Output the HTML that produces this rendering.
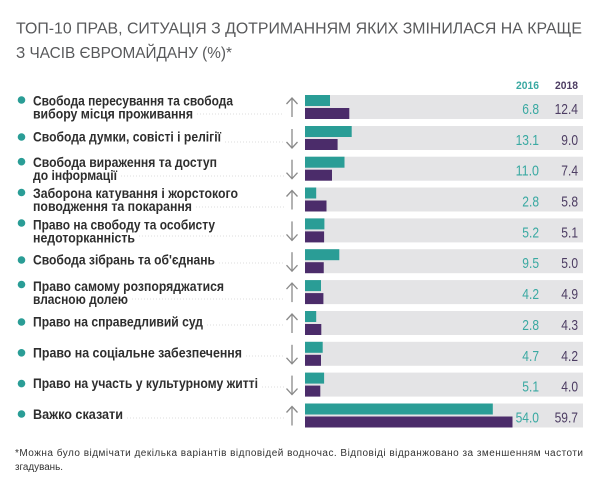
<!DOCTYPE html>
<html><head><meta charset="utf-8">
<style>
html,body{margin:0;padding:0;background:#fff;}
svg{display:block;}
text{font-family:"Liberation Sans","Noto Sans CJK SC",sans-serif;}
.lb{font-size:13.5px;font-weight:bold;fill:#2e2e2e;}
.n1{font-size:15px;fill:#3aa9a2;}
.n2{font-size:15px;fill:#4d3d63;}
</style></head>
<body>
<svg width="600" height="485" viewBox="0 0 600 485" xmlns="http://www.w3.org/2000/svg">
<rect width="600" height="485" fill="#fff"/>
<!-- title -->
<text x="16" y="33.5" font-size="15.5" fill="#58595b" textLength="566" lengthAdjust="spacingAndGlyphs">ТОП-10 ПРАВ, СИТУАЦІЯ З ДОТРИМАННЯМ ЯКИХ ЗМІНИЛАСЯ НА КРАЩЕ</text>
<text x="16" y="58" font-size="15.5" fill="#58595b" textLength="216" lengthAdjust="spacingAndGlyphs">З ЧАСІВ ЄВРОМАЙДАНУ (%)*</text>
<!-- header -->
<text x="539" y="89" font-size="11" font-weight="bold" fill="#3aa9a2" text-anchor="end" textLength="23" lengthAdjust="spacingAndGlyphs">2016</text>
<text x="578" y="89" font-size="11" font-weight="bold" fill="#4d3d63" text-anchor="end" textLength="23" lengthAdjust="spacingAndGlyphs">2018</text>

<g id="rows">
<!-- row 1 top 95 -->
<rect x="305" y="95" width="278" height="24" fill="#e4e4e6"/>
<rect x="305" y="95" width="25" height="11" fill="#2a9d96"/>
<rect x="305" y="108" width="44.3" height="11" fill="#4b2c6a"/>
<circle cx="21.5" cy="100" r="3.8" fill="#2a9d96"/>
<text x="33" y="105.5" class="lb" textLength="200" lengthAdjust="spacingAndGlyphs">Свобода пересування та свобода</text>
<text x="33" y="118.5" class="lb" textLength="160" lengthAdjust="spacingAndGlyphs">вибору місця проживання</text>
<line x1="197" y1="114" x2="284" y2="114" stroke="#d4d4d4" stroke-width="0.8" stroke-dasharray="1 2"/>
<line x1="292" y1="98" x2="292" y2="117" stroke="#8a8a8a" stroke-width="1.3"/>
<polyline points="286.5,104 292,98 297.5,104" fill="none" stroke="#8a8a8a" stroke-width="1.3"/>
<text x="539" y="114" class="n1" text-anchor="end" textLength="16.7" lengthAdjust="spacingAndGlyphs">6.8</text>
<text x="578" y="114" class="n2" text-anchor="end" textLength="23.4" lengthAdjust="spacingAndGlyphs">12.4</text>

<!-- row 2 top 126 -->
<rect x="305" y="126" width="278" height="24" fill="#e4e4e6"/>
<rect x="305" y="126" width="46.7" height="11" fill="#2a9d96"/>
<rect x="305" y="139" width="32.6" height="11" fill="#4b2c6a"/>
<circle cx="21.5" cy="137" r="3.8" fill="#2a9d96"/>
<text x="33" y="141.5" class="lb" textLength="188" lengthAdjust="spacingAndGlyphs">Свобода думки, совісті і релігії</text>
<line x1="225" y1="142" x2="284" y2="142" stroke="#d4d4d4" stroke-width="0.8" stroke-dasharray="1 2"/>
<line x1="292" y1="129" x2="292" y2="148" stroke="#8a8a8a" stroke-width="1.3"/>
<polyline points="286.5,142 292,148 297.5,142" fill="none" stroke="#8a8a8a" stroke-width="1.3"/>
<text x="539" y="145" class="n1" text-anchor="end" textLength="23.4" lengthAdjust="spacingAndGlyphs">13.1</text>
<text x="578" y="145" class="n2" text-anchor="end" textLength="16.7" lengthAdjust="spacingAndGlyphs">9.0</text>

<!-- row 3 top 156.7 -->
<rect x="305" y="156.7" width="278" height="24" fill="#e4e4e6"/>
<rect x="305" y="156.7" width="39.5" height="11" fill="#2a9d96"/>
<rect x="305" y="169.7" width="27" height="11" fill="#4b2c6a"/>
<circle cx="21.5" cy="161.7" r="3.8" fill="#2a9d96"/>
<text x="33" y="167.2" class="lb" textLength="184" lengthAdjust="spacingAndGlyphs">Свобода вираження та доступ</text>
<text x="33" y="180.2" class="lb" textLength="84" lengthAdjust="spacingAndGlyphs">до інформації</text>
<line x1="121" y1="176" x2="284" y2="176" stroke="#d4d4d4" stroke-width="0.8" stroke-dasharray="1 2"/>
<line x1="292" y1="159.7" x2="292" y2="178.7" stroke="#8a8a8a" stroke-width="1.3"/>
<polyline points="286.5,172.7 292,178.7 297.5,172.7" fill="none" stroke="#8a8a8a" stroke-width="1.3"/>
<text x="539" y="175.7" class="n1" text-anchor="end" textLength="23.4" lengthAdjust="spacingAndGlyphs">11.0</text>
<text x="578" y="175.7" class="n2" text-anchor="end" textLength="16.7" lengthAdjust="spacingAndGlyphs">7.4</text>

<!-- row 4 top 187.5 -->
<rect x="305" y="187.5" width="278" height="24" fill="#e4e4e6"/>
<rect x="305" y="187.5" width="11.2" height="11" fill="#2a9d96"/>
<rect x="305" y="200.5" width="21.5" height="11" fill="#4b2c6a"/>
<circle cx="21.5" cy="192.5" r="3.8" fill="#2a9d96"/>
<text x="33" y="198" class="lb" textLength="205" lengthAdjust="spacingAndGlyphs">Заборона катування і жорстокого</text>
<text x="33" y="211" class="lb" textLength="159" lengthAdjust="spacingAndGlyphs">поводження та покарання</text>
<line x1="196" y1="207" x2="284" y2="207" stroke="#d4d4d4" stroke-width="0.8" stroke-dasharray="1 2"/>
<line x1="292" y1="190.5" x2="292" y2="209.5" stroke="#8a8a8a" stroke-width="1.3"/>
<polyline points="286.5,196.5 292,190.5 297.5,196.5" fill="none" stroke="#8a8a8a" stroke-width="1.3"/>
<text x="539" y="206.5" class="n1" text-anchor="end" textLength="16.7" lengthAdjust="spacingAndGlyphs">2.8</text>
<text x="578" y="206.5" class="n2" text-anchor="end" textLength="16.7" lengthAdjust="spacingAndGlyphs">5.8</text>

<!-- row 5 top 218.4 -->
<rect x="305" y="218.4" width="278" height="24" fill="#e4e4e6"/>
<rect x="305" y="218.4" width="19.4" height="11" fill="#2a9d96"/>
<rect x="305" y="231.4" width="19.1" height="11" fill="#4b2c6a"/>
<circle cx="21.5" cy="223" r="3.8" fill="#2a9d96"/>
<text x="33" y="229.4" class="lb" textLength="182" lengthAdjust="spacingAndGlyphs">Право на свободу та особисту</text>
<text x="33" y="242.4" class="lb" textLength="102" lengthAdjust="spacingAndGlyphs">недоторканність</text>
<line x1="139" y1="236" x2="284" y2="236" stroke="#d4d4d4" stroke-width="0.8" stroke-dasharray="1 2"/>
<line x1="292" y1="221.4" x2="292" y2="240.4" stroke="#8a8a8a" stroke-width="1.3"/>
<polyline points="286.5,234.4 292,240.4 297.5,234.4" fill="none" stroke="#8a8a8a" stroke-width="1.3"/>
<text x="539" y="237.4" class="n1" text-anchor="end" textLength="16.7" lengthAdjust="spacingAndGlyphs">5.2</text>
<text x="578" y="237.4" class="n2" text-anchor="end" textLength="16.7" lengthAdjust="spacingAndGlyphs">5.1</text>

<!-- row 6 top 249.2 -->
<rect x="305" y="249.2" width="278" height="24" fill="#e4e4e6"/>
<rect x="305" y="249.2" width="34.3" height="11" fill="#2a9d96"/>
<rect x="305" y="262.2" width="18.75" height="11" fill="#4b2c6a"/>
<circle cx="21.5" cy="260" r="3.8" fill="#2a9d96"/>
<text x="33" y="264.7" class="lb" textLength="182" lengthAdjust="spacingAndGlyphs">Свобода зібрань та об'єднань</text>
<line x1="219" y1="263" x2="284" y2="263" stroke="#d4d4d4" stroke-width="0.8" stroke-dasharray="1 2"/>
<line x1="292" y1="252.2" x2="292" y2="271.2" stroke="#8a8a8a" stroke-width="1.3"/>
<polyline points="286.5,265.2 292,271.2 297.5,265.2" fill="none" stroke="#8a8a8a" stroke-width="1.3"/>
<text x="539" y="268.2" class="n1" text-anchor="end" textLength="16.7" lengthAdjust="spacingAndGlyphs">9.5</text>
<text x="578" y="268.2" class="n2" text-anchor="end" textLength="16.7" lengthAdjust="spacingAndGlyphs">5.0</text>

<!-- row 7 top 280.1 -->
<rect x="305" y="280.1" width="278" height="24" fill="#e4e4e6"/>
<rect x="305" y="280.1" width="16" height="11" fill="#2a9d96"/>
<rect x="305" y="293.1" width="18.4" height="11" fill="#4b2c6a"/>
<circle cx="21.5" cy="284.5" r="3.8" fill="#2a9d96"/>
<text x="33" y="291.1" class="lb" textLength="191" lengthAdjust="spacingAndGlyphs">Право самому розпоряджатися</text>
<text x="33" y="304.1" class="lb" textLength="95" lengthAdjust="spacingAndGlyphs">власною долею</text>
<line x1="132" y1="299" x2="284" y2="299" stroke="#d4d4d4" stroke-width="0.8" stroke-dasharray="1 2"/>
<line x1="292" y1="283.1" x2="292" y2="302.1" stroke="#8a8a8a" stroke-width="1.3"/>
<polyline points="286.5,289.1 292,283.1 297.5,289.1" fill="none" stroke="#8a8a8a" stroke-width="1.3"/>
<text x="539" y="299.1" class="n1" text-anchor="end" textLength="16.7" lengthAdjust="spacingAndGlyphs">4.2</text>
<text x="578" y="299.1" class="n2" text-anchor="end" textLength="16.7" lengthAdjust="spacingAndGlyphs">4.9</text>

<!-- row 8 top 311 -->
<rect x="305" y="311" width="278" height="24" fill="#e4e4e6"/>
<rect x="305" y="311" width="11.2" height="11" fill="#2a9d96"/>
<rect x="305" y="324" width="16.3" height="11" fill="#4b2c6a"/>
<circle cx="21.5" cy="322" r="3.8" fill="#2a9d96"/>
<text x="33" y="326.5" class="lb" textLength="170" lengthAdjust="spacingAndGlyphs">Право на справедливий суд</text>
<line x1="207" y1="325" x2="284" y2="325" stroke="#d4d4d4" stroke-width="0.8" stroke-dasharray="1 2"/>
<line x1="292" y1="314" x2="292" y2="333" stroke="#8a8a8a" stroke-width="1.3"/>
<polyline points="286.5,320 292,314 297.5,320" fill="none" stroke="#8a8a8a" stroke-width="1.3"/>
<text x="539" y="330" class="n1" text-anchor="end" textLength="16.7" lengthAdjust="spacingAndGlyphs">2.8</text>
<text x="578" y="330" class="n2" text-anchor="end" textLength="16.7" lengthAdjust="spacingAndGlyphs">4.3</text>

<!-- row 9 top 341.8 -->
<rect x="305" y="341.8" width="278" height="24" fill="#e4e4e6"/>
<rect x="305" y="341.8" width="17.7" height="11" fill="#2a9d96"/>
<rect x="305" y="354.8" width="16" height="11" fill="#4b2c6a"/>
<circle cx="21.5" cy="352.8" r="3.8" fill="#2a9d96"/>
<text x="33" y="357.3" class="lb" textLength="209" lengthAdjust="spacingAndGlyphs">Право на соціальне забезпечення</text>
<line x1="246" y1="356" x2="284" y2="356" stroke="#d4d4d4" stroke-width="0.8" stroke-dasharray="1 2"/>
<line x1="292" y1="344.8" x2="292" y2="363.8" stroke="#8a8a8a" stroke-width="1.3"/>
<polyline points="286.5,357.8 292,363.8 297.5,357.8" fill="none" stroke="#8a8a8a" stroke-width="1.3"/>
<text x="539" y="360.8" class="n1" text-anchor="end" textLength="16.7" lengthAdjust="spacingAndGlyphs">4.7</text>
<text x="578" y="360.8" class="n2" text-anchor="end" textLength="16.7" lengthAdjust="spacingAndGlyphs">4.2</text>

<!-- row 10 top 372.6 -->
<rect x="305" y="372.6" width="278" height="24" fill="#e4e4e6"/>
<rect x="305" y="372.6" width="19.1" height="11" fill="#2a9d96"/>
<rect x="305" y="385.6" width="15.3" height="11" fill="#4b2c6a"/>
<circle cx="21.5" cy="383.6" r="3.8" fill="#2a9d96"/>
<text x="33" y="388.1" class="lb" textLength="225" lengthAdjust="spacingAndGlyphs">Право на участь у культурному житті</text>
<line x1="262" y1="387" x2="284" y2="387" stroke="#d4d4d4" stroke-width="0.8" stroke-dasharray="1 2"/>
<line x1="292" y1="375.6" x2="292" y2="394.6" stroke="#8a8a8a" stroke-width="1.3"/>
<polyline points="286.5,388.6 292,394.6 297.5,388.6" fill="none" stroke="#8a8a8a" stroke-width="1.3"/>
<text x="539" y="391.6" class="n1" text-anchor="end" textLength="16.7" lengthAdjust="spacingAndGlyphs">5.1</text>
<text x="578" y="391.6" class="n2" text-anchor="end" textLength="16.7" lengthAdjust="spacingAndGlyphs">4.0</text>

<!-- row 11 top 403.5 -->
<rect x="305" y="403.5" width="278" height="24" fill="#e4e4e6"/>
<rect x="305" y="403.5" width="187.8" height="11" fill="#2a9d96"/>
<rect x="305" y="416.5" width="207.5" height="11" fill="#4b2c6a"/>
<circle cx="21.5" cy="414" r="3.8" fill="#2a9d96"/>
<text x="33" y="419" class="lb" textLength="90" lengthAdjust="spacingAndGlyphs">Важко сказати</text>
<line x1="127" y1="418" x2="284" y2="418" stroke="#d4d4d4" stroke-width="0.8" stroke-dasharray="1 2"/>
<line x1="292" y1="406.5" x2="292" y2="425.5" stroke="#8a8a8a" stroke-width="1.3"/>
<polyline points="286.5,412.5 292,406.5 297.5,412.5" fill="none" stroke="#8a8a8a" stroke-width="1.3"/>
<text x="539" y="422.5" class="n1" text-anchor="end" textLength="23.4" lengthAdjust="spacingAndGlyphs">54.0</text>
<text x="578" y="422.5" class="n2" text-anchor="end" textLength="23.4" lengthAdjust="spacingAndGlyphs">59.7</text>
</g>

<!-- footnote -->
<text x="15" y="456" font-size="10" fill="#333" textLength="568" lengthAdjust="spacing">*Можна було відмічати декілька варіантів відповідей водночас. Відповіді відранжовано за зменшенням частоти</text>
<text x="15" y="470" font-size="10" fill="#333" textLength="48" lengthAdjust="spacingAndGlyphs">згадувань.</text>
</svg>
</body></html>
